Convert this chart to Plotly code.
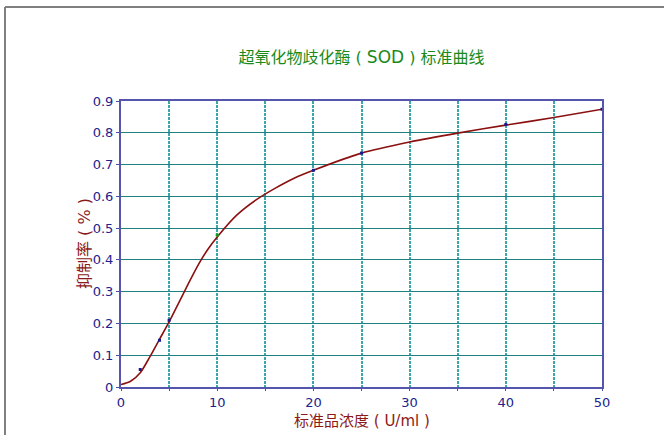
import plotly.graph_objects as go

# Measured standard points
conc = [2, 4, 5, 10, 20, 25, 40, 50]
inhibition = [0.055, 0.147, 0.21, 0.478, 0.682, 0.736, 0.826, 0.874]
point_colors = ["#1a1a8c", "#1a1a8c", "#1a1a8c", "#1a9a1a", "#1a1a8c", "#1a1a8c", "#1a1a8c", "#1a1a8c"]

# Fitted standard curve
curve_x = [0, 1, 2, 3, 4, 5, 6, 7, 8, 9, 10, 12, 14, 16, 18, 20, 25, 30, 35, 40, 45, 50]
curve_y = [0.008, 0.018, 0.045, 0.095, 0.15, 0.205, 0.265, 0.325, 0.383, 0.432, 0.472,
           0.54, 0.588, 0.625, 0.657, 0.682, 0.736, 0.771, 0.799, 0.824, 0.848, 0.874]

x_ticks = [0, 10, 20, 30, 40, 50]
x_minor = [5, 15, 25, 35, 45]
y_ticks = [0, 0.1, 0.2, 0.3, 0.4, 0.5, 0.6, 0.7, 0.8, 0.9]
y_labels = ["0", "0.1", "0.2", "0.3", "0.4", "0.5", "0.6", "0.7", "0.8", "0.9"]

title_text = "超氧化物歧化酶 ( <span style='font-size:17px'>SOD</span> ) 标准曲线"
x_title = "标准品浓度 ( U/ml )"
y_title = "抑制率 ( % )"

cjk = "DejaVu Sans, Noto Sans CJK SC, sans-serif"
latin = "DejaVu Sans, Verdana, sans-serif"

fig = go.Figure()
fig.add_trace(go.Scatter(x=curve_x, y=curve_y, mode="lines",
                         line=dict(color="#8b1010", width=1.6, shape="spline", smoothing=0.8),
                         hoverinfo="skip", showlegend=False))
fig.add_trace(go.Scatter(x=conc, y=inhibition, mode="markers",
                         marker=dict(symbol="square", size=3, color=point_colors),
                         showlegend=False))

W, H = 664, 435
L, R, T, B = 121, 62, 101, 48
pw = W - L - R
ph = H - T - B

def px_to_paper_x(px):
    return (px - L) / pw

def py_to_paper_y(py):
    return (H - B - py) / ph

fx = px_to_paper_x(5)
fy = py_to_paper_y(7)
fig.add_shape(type="line", xref="paper", yref="paper", x0=fx, x1=fx,
              y0=py_to_paper_y(440), y1=fy, line=dict(color="#808080", width=2))
fig.add_shape(type="line", xref="paper", yref="paper", x0=fx, x1=px_to_paper_x(670),
              y0=fy, y1=fy, line=dict(color="#808080", width=2))

# axis titles
fig.add_annotation(text=x_title, xref="paper", yref="paper", x=0.5, y=py_to_paper_y(410),
                   xanchor="center", yanchor="top", showarrow=False,
                   font=dict(family=cjk, size=15, color="#8b1a1a"))
fig.add_annotation(text=y_title, xref="paper", yref="paper", x=px_to_paper_x(84), y=0.5,
                   xanchor="center", yanchor="middle", showarrow=False, textangle=-90,
                   font=dict(family=cjk, size=16, color="#8b1a1a"))

grid_v = dict(showgrid=True, gridcolor="#3aa8a8", gridwidth=2, griddash="3px,1px")

fig.update_layout(
    width=W, height=H,
    margin=dict(l=L, r=R, t=T, b=B, autoexpand=False),
    paper_bgcolor="white", plot_bgcolor="white",
    title=dict(text=title_text, x=(L + pw / 2) / W, xanchor="center",
               y=1 - 57 / H, yanchor="middle",
               font=dict(family=cjk, size=16, color="#1a8a1a")),
    xaxis=dict(range=[0, 50], tickvals=x_ticks, ticktext=[str(v) for v in x_ticks],
               **grid_v,
               ticks="outside", ticklen=2, tickcolor="#4a4aa8",
               minor=dict(tickvals=x_minor, ticks="outside", ticklen=2,
                          tickcolor="#4a4aa8", **grid_v),
               showline=True, linecolor="#5555ad", linewidth=2, mirror=True,
               zeroline=False,
               tickfont=dict(family=latin, size=13, color="#22228c")),
    yaxis=dict(range=[0, 0.9], tickvals=y_ticks, ticktext=y_labels,
               showgrid=True, gridcolor="#1f8080", gridwidth=1,
               ticks="outside", ticklen=3, tickcolor="#4a4aa8",
               showline=True, linecolor="#5555ad", linewidth=2, mirror=True,
               zeroline=False,
               tickfont=dict(family=latin, size=13, color="#22228c")),
)

fig.write_html("out.html", config={"displayModeBar": False},
               post_script="document.body.style.margin='0px';")
